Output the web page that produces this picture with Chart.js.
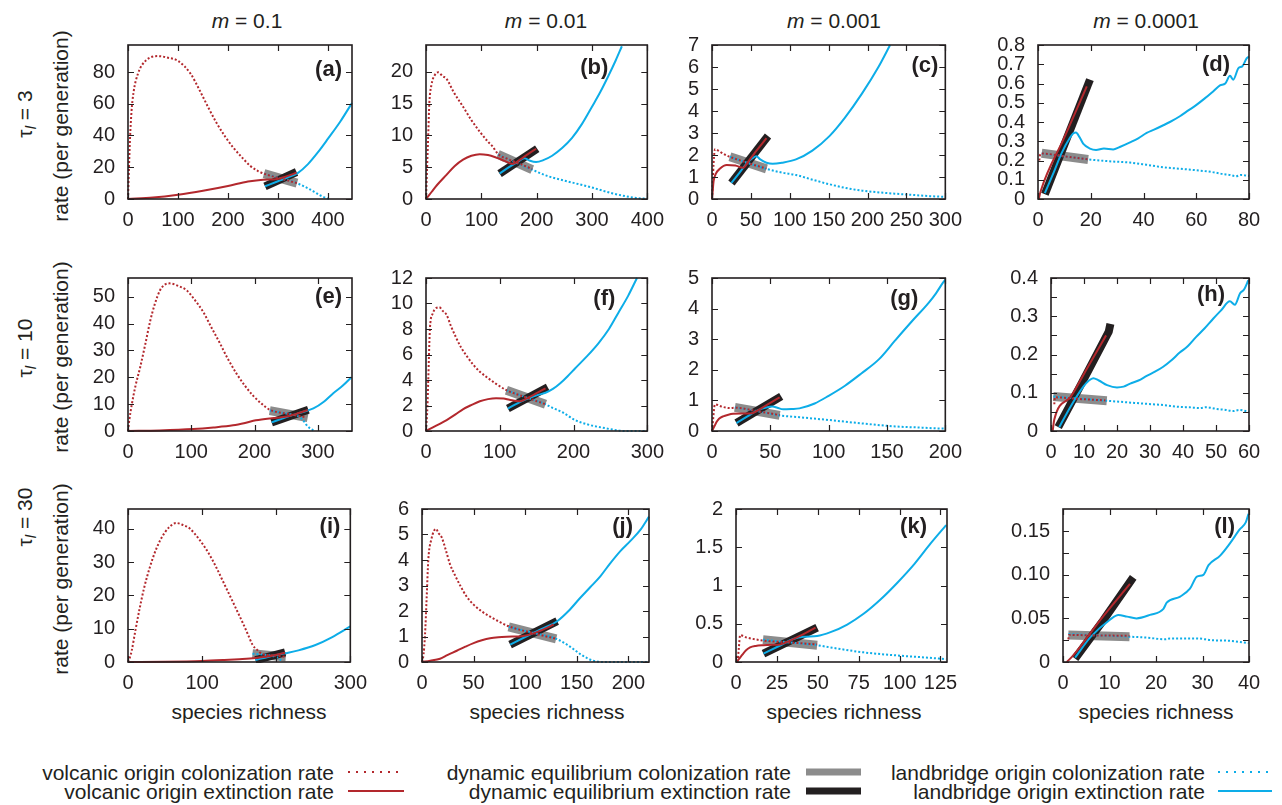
<!DOCTYPE html>
<html lang="en">
<head>
<meta charset="UTF-8">
<title>Colonization and extinction rates</title>
<script src="https://cdn.jsdelivr.net/npm/chart.js"></script>
<style>
  body { margin: 0; background: #fff; font-family: "Liberation Sans", Arial, sans-serif; color: #231f20; }
  #page { position: relative; width: 1282px; height: 805px; overflow: hidden; background: #fff; }
  #page canvas { position: absolute; }
  .txt { position: absolute; white-space: nowrap; font-size: 21px; line-height: 1; transform: translate(-50%, -50%); }
  .rot { transform: translate(-50%, -50%) rotate(-90deg); }
  .txt sub { font-size: 15px; font-style: italic; vertical-align: -4px; line-height: 0; }
  .leg { position: absolute; white-space: nowrap; font-size: 21px; line-height: 1; transform: translate(-100%, -50%); }
  .sw { position: absolute; transform: translateY(-50%); }
</style>
</head>
<body>
<div id="page">
  <div class="txt" style="left:247px;top:20px"><i>m</i> = 0.1</div>
  <div class="txt" style="left:546px;top:20px"><i>m</i> = 0.01</div>
  <div class="txt" style="left:834px;top:20px"><i>m</i> = 0.001</div>
  <div class="txt" style="left:1146px;top:20px"><i>m</i> = 0.0001</div>

  <div class="txt rot" style="left:24px;top:114px">τ<sub>l</sub> = 3</div>
  <div class="txt rot" style="left:24px;top:348px">τ<sub>l</sub> = 10</div>
  <div class="txt rot" style="left:24px;top:517px">τ<sub>l</sub> = 30</div>
  <div class="txt rot" style="left:60px;top:126px">rate (per generation)</div>
  <div class="txt rot" style="left:60px;top:357px">rate (per generation)</div>
  <div class="txt rot" style="left:60px;top:579px">rate (per generation)</div>

  <div class="txt" style="left:249px;top:711px">species richness</div>
  <div class="txt" style="left:547px;top:711px">species richness</div>
  <div class="txt" style="left:844px;top:711px">species richness</div>
  <div class="txt" style="left:1156px;top:711px">species richness</div>

  <div class="leg" style="left:334px;top:772px">volcanic origin colonization rate</div>
  <div class="leg" style="left:334px;top:791px">volcanic origin extinction rate</div>
  <div class="sw" style="left:348px;top:772px;width:56px;height:2px;background:repeating-linear-gradient(to right,#b3282d 0 2px,transparent 2px 8px)"></div>
  <div class="sw" style="left:348px;top:791px;width:56px;height:2px;background:#b3282d"></div>

  <div class="leg" style="left:791px;top:772px">dynamic equilibrium colonization rate</div>
  <div class="leg" style="left:791px;top:791px">dynamic equilibrium extinction rate</div>
  <div class="sw" style="left:806px;top:772px;width:55px;height:7px;background:#8c8c8c"></div>
  <div class="sw" style="left:806px;top:791px;width:55px;height:7px;background:#231f20"></div>

  <div class="leg" style="left:1205px;top:772px">landbridge origin colonization rate</div>
  <div class="leg" style="left:1205px;top:791px">landbridge origin extinction rate</div>
  <div class="sw" style="left:1218px;top:772px;width:54px;height:2px;background:repeating-linear-gradient(to right,#0dade8 0 2px,transparent 2px 8px)"></div>
  <div class="sw" style="left:1218px;top:791px;width:54px;height:2px;background:#0dade8"></div>
</div>

<script>
// (a) m = 0.1, tau = 3
const volColA = [[0,0],[2,20],[4,38],[7,55],[11,67],[20,79],[35,87],[60,90],[80,89],[100,87],[125,79],[144,68],[160,58],[177,48],[195,39],[210,32.6],[230,25.5],[244,21],[260,17.6],[277,15.4],[300,13.4],[338,10]];
const volExtA = [[0,0],[50,0.9],[100,2.7],[150,5.2],[200,8.2],[240,11],[270,12.2],[295,12.5],[315,14],[337,16.5]];
const lbColA = [[272,16],[300,13.5],[338,10],[355,7.5],[370,5],[385,2.2],[400,0.3],[405,0]];
const lbExtA = [[274,8],[300,11.2],[320,13.6],[340,16.5],[360,22],[380,29.5],[400,38],[425,49],[448,60.5]];
const eqColA = [[272,16],[338,10]];
const eqExtA = [[274,8],[337,17]];
const xTicksA = [0,100,200,300,400];
const yTicksA = [0,20,40,60,80];

// (b) m = 0.01, tau = 3
const volColB = [[0,0],[2,5],[4,10],[6,15],[10,18],[16,19.5],[22,19.9],[30,19.3],[37,18.9],[50,16.8],[67,14.5],[82,12.4],[97,10.6],[112,9],[120,8.3],[130,7.1],[150,6.2],[170,5.5],[192,4.7]];
const volExtB = [[0,0],[10,1.1],[20,2.2],[37,3.8],[52,5.2],[67,6.2],[82,6.8],[97,7.05],[112,6.9],[127,6.5],[142,6],[157,5.5],[170,6.2],[185,7.1],[199,7.9]];
const lbColB = [[130,7],[160,5.8],[192,4.6],[220,3.6],[250,2.9],[275,2.35],[300,1.8],[320,1.3],[336,0.9],[360,0.45],[380,0.15],[400,0.03]];
const lbExtB = [[133,4],[150,5],[165,5.8],[178,6.4],[188,6],[199,5.8],[212,6.1],[228,6.8],[246,8],[264,9.6],[282,11.8],[300,14.5],[315,16.8],[330,19.4],[343,21.8],[354,24]];
const eqColB = [[130,7],[192,4.6]];
const eqExtB = [[133,4],[201,7.9]];
const xTicksB = [0,100,200,300,400];
const yTicksB = [0,5,10,15,20];

// (c) m = 0.001, tau = 3
const volColC = [[0,0],[1,0.8],[2,1.6],[3,2.1],[4,2.26],[8,2.2],[15,2.05],[23,1.92],[45,1.65],[70,1.38]];
const volExtC = [[0,0],[1,0.4],[2,0.8],[5,1.15],[10,1.37],[19,1.54],[30,1.52],[40,1.42],[48,1.77],[58,2.23],[70,2.77]];
const lbColC = [[23,1.92],[45,1.65],[70,1.37],[90,1.2],[108,1.09],[130,0.87],[151,0.67],[172,0.5],[193,0.38],[215,0.3],[236,0.24],[260,0.18],[280,0.13],[298,0.1]];
const lbExtC = [[25,0.73],[35,1.18],[45,1.63],[52,1.85],[57,1.94],[62,1.8],[70,1.65],[78,1.6],[90,1.65],[108,1.8],[129,2.2],[151,2.86],[171,3.7],[193,4.8],[214,6],[229,7]];
const eqColC = [[23,1.92],[70,1.37]];
const eqExtC = [[25,0.73],[72,2.86]];
const xTicksC = [0,50,100,150,200,250,300];
const yTicksC = [0,1,2,3,4,5,6,7];

// (d) m = 0.0001, tau = 3
const volColD = [[0.5,0.2],[0.7,0.225],[1.4,0.236],[10,0.222],[19,0.206]];
const volExtD = [[0.3,0],[1,0.04],[10,0.32],[18.5,0.585]];
const lbColD = [[1.4,0.236],[10,0.222],[19,0.206],[27,0.196],[34.9,0.189],[41,0.178],[47.5,0.165],[54,0.157],[60.2,0.149],[66,0.14],[70,0.13],[72.8,0.125],[75,0.118],[77,0.125],[80,0.12]];
const lbExtD = [[2.6,0.03],[6,0.14],[9,0.24],[12.1,0.318],[13.3,0.34],[14.4,0.346],[15.8,0.32],[17.2,0.286],[19.7,0.262],[22,0.255],[25,0.262],[28.5,0.257],[31,0.27],[34.9,0.294],[38,0.315],[41.2,0.343],[44,0.36],[47.5,0.383],[50,0.4],[53.8,0.43],[57,0.46],[60.2,0.49],[63,0.52],[66.5,0.56],[69,0.59],[71,0.6],[72.8,0.64],[74,0.62],[76,0.68],[77.5,0.69],[79.1,0.73],[80,0.74]];
const eqColD = [[1.4,0.238],[19,0.205]];
const eqExtD = [[2.6,0.025],[19.7,0.62]];
const xTicksD = [0,20,40,60,80];
const yTicksD = [0,0.1,0.2,0.3,0.4,0.5,0.6,0.7,0.8];

// (e) m = 0.1, tau = 10
const volColE = [[0,0],[2,4],[5.8,9.6],[12,17],[19,23.5],[27,32],[35,40.9],[42,47],[50.5,52.4],[58,54.5],[66,55],[80,54],[92.7,52.4],[105,49],[119,44.3],[132,38.5],[145,32.8],[158,26.8],[172,21.2],[185,16.8],[198,13.1],[211,10.2],[224,7.9],[250,6.5],[282,5.1]];
const volExtE = [[0,0],[50,0.2],[103,0.7],[135,1.3],[166,2.1],[185,3],[202,4],[224,4.7],[240,5],[255,5.6],[270,6.7],[284,7.8]];
const lbColE = [[224,7.6],[250,6.5],[268,5.6],[276,4.2],[282,2.3],[288,0.9],[295,0]];
const lbExtE = [[227,3.2],[245,4.7],[260,5.9],[275,7],[293,8.4],[310,11],[324,14],[340,17],[353,20]];
const eqColE = [[224,7.6],[284,5]];
const eqExtE = [[227,3.2],[285,7.9]];
const xTicksE = [0,100,200,300];
const yTicksE = [0,10,20,30,40,50];

// (f) m = 0.01, tau = 10
const volColF = [[0,0],[2,2],[3,3.9],[5.4,8.1],[9,9.2],[14,9.65],[18,9.7],[23,9.4],[28,9.1],[34,8.2],[41,7.3],[48,6.5],[55,5.9],[64,5.2],[73,4.65],[84,4.15],[95,3.7],[109,3.2],[135,2.65],[162,2.1]];
const volExtF = [[0,0],[10,0.3],[28,0.86],[40,1.3],[50,1.7],[62,2.05],[73,2.33],[84,2.5],[95,2.57],[105,2.55],[113,2.45],[126,2.33],[140,2.66],[150,2.97],[162,3.34]];
const lbColF = [[109,3.2],[135,2.65],[162,2.1],[172,1.8],[185,1.47],[202,0.86],[220,0.5],[243,0.22],[260,0.05],[270,0],[300,0]];
const lbExtF = [[111,1.76],[130,2.35],[153,2.85],[162,3],[172,3.3],[182,3.75],[192,4.3],[202,4.9],[218,5.85],[234,6.9],[248,8],[261,9.3],[274,10.6],[286,12]];
const eqColF = [[109,3.2],[162,2.1]];
const eqExtF = [[111,1.76],[165,3.43]];
const xTicksF = [0,100,200,300];
const yTicksF = [0,2,4,6,8,10,12];

// (g) m = 0.001, tau = 10
const volColG = [[0,0],[1,0.4],[2,0.8],[2.6,0.87],[8,0.8],[15.3,0.75],[19.6,0.76],[40,0.64],[58,0.52]];
const volExtG = [[0,0],[2,0.15],[4,0.3],[6,0.4],[9.6,0.48],[14,0.53],[18,0.56],[25,0.57],[33,0.57],[40,0.69],[50,0.92],[58,1.1]];
const lbColG = [[19.6,0.77],[40,0.64],[58,0.51],[75,0.45],[100,0.36],[128,0.25],[157,0.15],[180,0.11],[198,0.08],[200,0.08]];
const lbExtG = [[21,0.26],[30,0.47],[40,0.69],[46.5,0.77],[52,0.8],[56,0.76],[61,0.71],[68,0.72],[75,0.74],[88,0.9],[100,1.15],[114,1.48],[128,1.88],[143,2.34],[157,2.96],[171,3.57],[185.5,4.18],[192,4.5],[198,4.85],[200,4.95]];
const eqColG = [[19.6,0.77],[58,0.51]];
const eqExtG = [[21,0.26],[59.3,1.13]];
const xTicksG = [0,50,100,150,200];
const yTicksG = [0,1,2,3,4,5];

// (h) m = 0.0001, tau = 10
const volColH = [[1,0.07],[1.2,0.088],[8,0.084],[16.5,0.08]];
const volExtH = [[0.5,0],[1,0.03],[6,0.09],[11,0.165],[16.7,0.25]];
const lbColH = [[0.7,0.09],[8,0.085],[16.9,0.079],[23,0.075],[29,0.071],[34,0.068],[39,0.063],[42,0.062],[45,0.06],[47,0.062],[50,0.058],[53,0.055],[55.2,0.052],[57,0.055],[60,0.05]];
const lbExtH = [[2.5,0.01],[6,0.065],[9.8,0.116],[11.5,0.132],[12.8,0.138],[14.5,0.132],[17,0.12],[20,0.114],[22,0.116],[24,0.124],[26.5,0.132],[29,0.144],[31.5,0.155],[34,0.168],[36.5,0.185],[39,0.205],[41.5,0.222],[44,0.246],[46.5,0.268],[49.2,0.294],[51.5,0.315],[54.2,0.339],[55.7,0.33],[57.3,0.36],[58.5,0.37],[59.8,0.394]];
const eqColH = [[0.7,0.09],[16.9,0.079]];
const eqExtH = [[2.2,0.01],[9,0.12],[16,0.235],[17.5,0.26],[18,0.28]];
const xTicksH = [0,10,20,30,40,50,60];
const yTicksH = [0,0.1,0.2,0.3,0.4];
const yMinorH = [0.05,0.15,0.25,0.35];

// (i) m = 0.1, tau = 30
const volColI = [[0,0],[2,1],[5,3.4],[10,9.5],[16,16.4],[22,22.5],[29.5,28.5],[36,32.8],[43,36.4],[50,39],[56,40.6],[65,41.8],[74,41.2],[83,40.2],[96,36.9],[108,33],[119,28.5],[130,23.4],[141,18.3],[148,15],[155,11.7],[162,8.2],[168,5.2],[175,3.5],[181,2.4],[196,2],[213,1.5]];
const volExtI = [[0,0],[50,0.08],[100,0.3],[130,0.6],[150,0.85],[172,1.2],[190,1.7],[212,2.8]];
const lbColI = [[168,2.5],[190,2],[200,1.5],[205,0.8],[209,0.2]];
const lbExtI = [[172,0.6],[190,1.6],[212,2.6],[230,3.5],[253,5.1],[275,7.4],[300,10.7]];
const eqColI = [[168,2.5],[213,1.5]];
const eqExtI = [[172,0.56],[212,2.9]];
const xTicksI = [0,100,200,300];
const yTicksI = [0,10,20,30,40];

// (j) m = 0.01, tau = 30
const volColJ = [[0,0],[1.5,0.3],[2.9,1.05],[4.5,2.5],[6.1,4],[9,4.8],[13.6,5.22],[16,5.05],[19,4.9],[23,4.4],[27,3.85],[32,3.4],[37,3],[43,2.58],[50,2.25],[58,1.98],[66,1.78],[74,1.6],[84,1.4],[106,1.15],[130,0.91]];
const volExtJ = [[0,0],[8,0.05],[17.5,0.13],[25,0.28],[33.7,0.44],[42,0.6],[50,0.74],[58,0.85],[66,0.93],[74,0.97],[82,0.99],[98,1.02],[110,1.15],[120,1.32],[127.5,1.47]];
const lbColJ = [[84,1.38],[107,1.15],[130,0.91],[140.5,0.68],[147,0.5],[153,0.32],[160,0.15],[166,0.05],[175,0],[220,0]];
const lbExtJ = [[85.4,0.68],[100,0.98],[115,1.28],[131,1.6],[142,2],[153,2.5],[163,2.93],[173,3.37],[182,3.85],[192,4.34],[202,4.75],[212,5.2],[220,5.7]];
const eqColJ = [[84,1.38],[130,0.91]];
const eqExtJ = [[85.4,0.68],[131,1.6]];
const xTicksJ = [0,50,100,150,200];
const yTicksJ = [0,1,2,3,4,5,6];

// (k) m = 0.001, tau = 30
const volColK = [[1,0],[1.8,0.2],[2.5,0.35],[6.6,0.32],[16.8,0.28],[33,0.255],[49.6,0.23]];
const volExtK = [[0,0],[1.5,0.03],[3.5,0.085],[6,0.15],[8.6,0.19],[12,0.21],[16.8,0.22],[22,0.225],[27,0.23],[33,0.28],[41,0.36],[48.6,0.45]];
const lbColK = [[16.5,0.29],[33,0.255],[49.6,0.22],[57.8,0.19],[78,0.126],[98.8,0.085],[115,0.06],[128.5,0.037]];
const lbExtK = [[16.8,0.11],[27,0.216],[35,0.3],[41.4,0.33],[49.6,0.34],[57.8,0.39],[68,0.49],[78,0.63],[88.5,0.82],[98.8,1.04],[109,1.28],[119,1.55],[128.5,1.79]];
const eqColK = [[16.5,0.29],[49.6,0.22]];
const eqExtK = [[16.8,0.11],[49.6,0.45]];
const xTicksK = [0,25,50,75,100,125];
const yTicksK = [0,0.5,1,1.5,2];

// (l) m = 0.0001, tau = 30
const volColL = [[1.15,0.026],[1.3,0.031],[7,0.0305],[14.3,0.03]];
const volExtL = [[0.8,0],[2.2,0.0075],[8,0.048],[14.4,0.0895]];
const lbColL = [[1.15,0.032],[14.3,0.029],[18,0.028],[22,0.026],[23,0.027],[28.8,0.027],[32,0.025],[35.9,0.0243],[39.9,0.0217]];
const lbExtL = [[2.6,0.005],[6,0.029],[10.1,0.0485],[11.9,0.054],[13.8,0.052],[15.8,0.05],[18.7,0.054],[21.6,0.061],[22.3,0.068],[25.2,0.075],[27.3,0.084],[28.8,0.098],[30.2,0.1],[31.3,0.111],[33.8,0.122],[35.9,0.136],[38,0.152],[39.3,0.16],[39.9,0.17]];
const eqColL = [[1.15,0.031],[14.3,0.029]];
const eqExtL = [[2.6,0.004],[8.7,0.048],[15.1,0.097]];
const xTicksL = [0,10,20,30,40];
const yTicksL = [0,0.05,0.1,0.15];
const yMinorL = [0.025,0.075,0.125];

const ink = '#231f20';
const red = '#b3282d';
const blue = '#0dade8';
const grey = '#8c8c8c';

Chart.defaults.font.family = '"Liberation Sans", Arial, sans-serif';
Chart.defaults.font.size = 20;
Chart.defaults.color = ink;

// draw order: later entries go underneath
const styles = [
  { borderColor: red, borderWidth: 2, borderDash: [2, 2], cubicInterpolationMode: 'monotone' },
  { borderColor: red, borderWidth: 2, cubicInterpolationMode: 'monotone' },
  { borderColor: blue, borderWidth: 2, borderDash: [2, 2], cubicInterpolationMode: 'monotone' },
  { borderColor: blue, borderWidth: 2, cubicInterpolationMode: 'monotone' },
  { borderColor: ink, borderWidth: 8, borderCapStyle: 'butt', tension: 0 },
  { borderColor: grey, borderWidth: 9, borderCapStyle: 'butt', tension: 0 }
];

// box = plot area [left, top, right, bottom] on the page, lab = letter inset / offset
const panels = [
  { name: '(a)', box: [128, 34, 352, 199], xMax: 448, yMax: 97, xTicks: xTicksA, yTicks: yTicksA, lab: [10, 25], series: [volColA, volExtA, lbColA, lbExtA, eqExtA, eqColA] },
  { name: '(b)', box: [426, 34, 649, 199], xMax: 400, yMax: 24.2, xTicks: xTicksB, yTicks: yTicksB, lab: [39, 23], series: [volColB, volExtB, lbColB, lbExtB, eqExtB, eqColB] },
  { name: '(c)', box: [712, 34, 947, 199], xMax: 300, yMax: 7, xTicks: xTicksC, yTicks: yTicksC, lab: [7, 21], series: [volColC, volExtC, lbColC, lbExtC, eqExtC, eqColC] },
  { name: '(d)', box: [1038, 34, 1249, 199], xMax: 80, yMax: 0.8, xTicks: xTicksD, yTicks: yTicksD, lab: [19, 20], series: [volColD, volExtD, lbColD, lbExtD, eqExtD, eqColD] },
  { name: '(e)', box: [128, 267, 352, 431], xMax: 354, yMax: 57, xTicks: xTicksE, yTicks: yTicksE, lab: [10, 19], series: [volColE, volExtE, lbColE, lbExtE, eqExtE, eqColE] },
  { name: '(f)', box: [426, 267, 649, 431], xMax: 300, yMax: 12, xTicks: xTicksF, yTicks: yTicksF, lab: [32, 21], series: [volColF, volExtF, lbColF, lbExtF, eqExtF, eqColF] },
  { name: '(g)', box: [712, 267, 947, 431], xMax: 200, yMax: 5, xTicks: xTicksG, yTicks: yTicksG, lab: [27, 21], series: [volColG, volExtG, lbColG, lbExtG, eqExtG, eqColG] },
  { name: '(h)', box: [1051, 267, 1249, 431], xMax: 60, yMax: 0.4, xTicks: xTicksH, yTicks: yTicksH, yMinor: yMinorH, lab: [24, 17], series: [volColH, volExtH, lbColH, lbExtH, eqExtH, eqColH] },
  { name: '(i)', box: [128, 498, 352, 662], xMax: 300, yMax: 46, xTicks: xTicksI, yTicks: yTicksI, lab: [10, 18], series: [volColI, volExtI, lbColI, lbExtI, eqExtI, eqColI] },
  { name: '(j)', box: [422, 498, 649, 662], xMax: 220, yMax: 6, xTicks: xTicksJ, yTicks: yTicksJ, lab: [16, 18], series: [volColJ, volExtJ, lbColJ, lbExtJ, eqExtJ, eqColJ] },
  { name: '(k)', box: [736, 498, 947, 662], xMax: 129, yMax: 2, xTicks: xTicksK, yTicks: yTicksK, lab: [20, 18], series: [volColK, volExtK, lbColK, lbExtK, eqExtK, eqColK] },
  { name: '(l)', box: [1063, 498, 1249, 662], xMax: 40, yMax: 0.1754, xTicks: xTicksL, yTicks: yTicksL, yMinor: yMinorL, lab: [14, 18], yFmt: v => v === 0 ? '0' : v.toFixed(2), series: [volColL, volExtL, lbColL, lbExtL, eqExtL, eqColL] }
];

const AXW = 62, AXH = 34, PADT = 14, PADR = 24;
const page = document.getElementById('page');

// gnuplot-like frame: box border, inward mirrored ticks, panel letter
function framePlugin(p) {
  return {
    id: 'frame',
    afterDatasetsDraw(chart) {
      const { ctx, chartArea: ca, scales: { x, y } } = chart;
      const tl = 6;
      ctx.save();
      ctx.strokeStyle = ink;
      ctx.lineWidth = 1.2;
      ctx.beginPath();
      x.ticks.forEach(t => {
        const px = Math.round(x.getPixelForValue(t.value)) + 0.5;
        ctx.moveTo(px, ca.bottom); ctx.lineTo(px, ca.bottom - tl);
        ctx.moveTo(px, ca.top); ctx.lineTo(px, ca.top + tl);
      });
      const yVals = y.ticks.map(t => t.value).concat(p.yMinor || []);
      yVals.forEach(v => {
        const py = Math.round(y.getPixelForValue(v)) + 0.5;
        ctx.moveTo(ca.left, py); ctx.lineTo(ca.left + tl, py);
        ctx.moveTo(ca.right, py); ctx.lineTo(ca.right - tl, py);
      });
      ctx.stroke();
      ctx.lineWidth = 1.6;
      ctx.strokeRect(ca.left, ca.top, ca.right - ca.left, ca.bottom - ca.top);
      ctx.fillStyle = ink;
      ctx.font = 'bold 22px "Liberation Sans", Arial, sans-serif';
      ctx.textAlign = 'right';
      ctx.textBaseline = 'middle';
      ctx.fillText(p.name, ca.right - p.lab[0], ca.top + p.lab[1]);
      ctx.restore();
    }
  };
}

panels.forEach(p => {
  const [l, t, r, b] = p.box;
  const cv = document.createElement('canvas');
  cv.width = r - l + AXW + PADR;
  cv.height = b - t + PADT + AXH;
  cv.style.left = (l - AXW) + 'px';
  cv.style.top = (t - PADT) + 'px';
  page.appendChild(cv);

  new Chart(cv, {
    type: 'line',
    data: {
      datasets: p.series.map((pts, i) => Object.assign({
        data: pts.map(([x, y]) => ({ x: x, y: y })),
        fill: false,
        pointRadius: 0,
        clip: 1
      }, styles[i]))
    },
    options: {
      responsive: false,
      animation: false,
      devicePixelRatio: 1,
      events: [],
      layout: { padding: { left: 0, top: PADT, right: PADR, bottom: 0 } },
      plugins: { legend: { display: false }, tooltip: { enabled: false } },
      scales: {
        x: {
          type: 'linear', min: 0, max: p.xMax,
          grid: { display: false, drawTicks: false },
          border: { display: false },
          ticks: { padding: 9, maxRotation: 0, autoSkip: false },
          afterBuildTicks: s => { s.ticks = p.xTicks.map(v => ({ value: v })); },
          afterFit: s => { s.height = AXH; }
        },
        y: {
          type: 'linear', min: 0, max: p.yMax,
          grid: { display: false, drawTicks: false },
          border: { display: false },
          ticks: { padding: 13, autoSkip: false, callback: v => p.yFmt ? p.yFmt(v) : String(v) },
          afterBuildTicks: s => { s.ticks = p.yTicks.map(v => ({ value: v })); },
          afterFit: s => { s.width = AXW; }
        }
      }
    },
    plugins: [framePlugin(p)]
  });
});
</script>
</body>
</html>
